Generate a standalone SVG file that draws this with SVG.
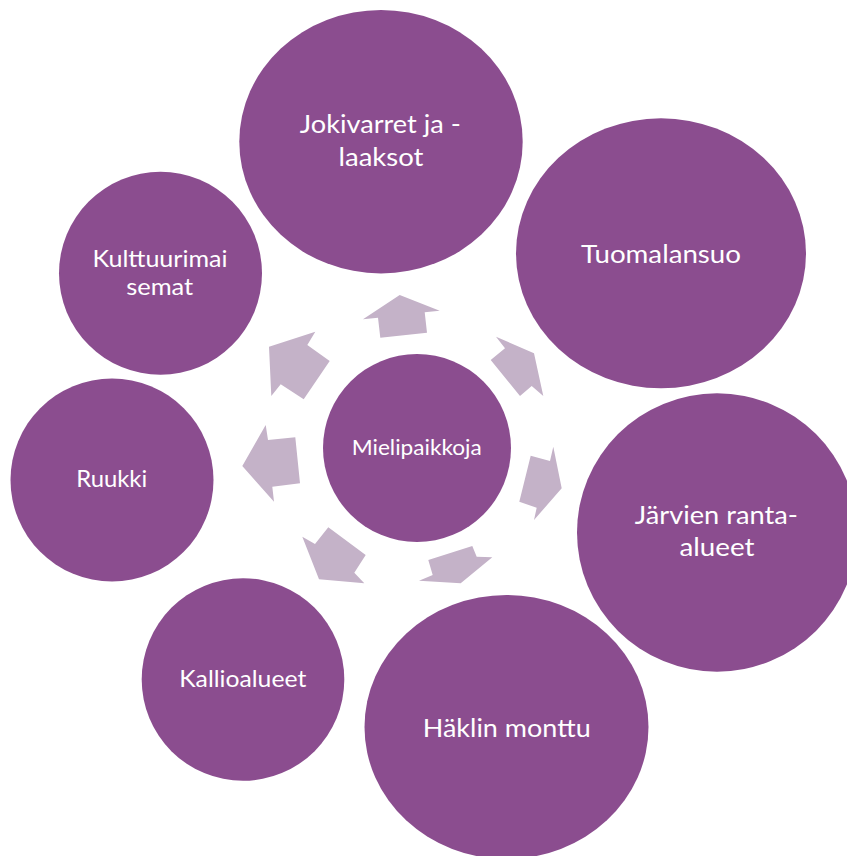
<svg xmlns="http://www.w3.org/2000/svg" width="847" height="856" viewBox="0 0 847 856">
<style>
.node{fill:#8B4D8F}
.arrow{fill:#C4B2C8}
.lbl{fill:#FFFFFF;font-family:Lato,"Open Sans","Liberation Sans",sans-serif;text-anchor:middle}
.big{font-size:25.4px}
.small{font-size:23.2px}
.mid{font-size:20.7px}
</style>
<rect width="847" height="856" fill="#FFFFFF"/>
<g id="connectors">
<polygon class="arrow" points="363,319.3 399.7,295 439.7,310.7 424.7,312.3 427,332.7 380.3,337.7 378,317.7"/>
<polygon class="arrow" points="496,336.7 534,353.3 543.3,396 531.7,386 520,396 490.7,360 505,348.3"/>
<polygon class="arrow" points="553.3,446.7 561.7,488.3 534,520 536.7,507.7 519.3,501.7 530.7,455.7 550,461"/>
<polygon class="arrow" points="419,580.7 432.7,575 428.3,560 472.3,546 476.7,556.7 492.3,557.3 460.7,583.3"/>
<polygon class="arrow" points="302.3,536.7 315,544 328.3,527.3 365.7,555 354.3,572.7 364.3,583.3 319,579.3"/>
<polygon class="arrow" points="242.3,466 265.7,425 268,440 295.3,437.3 300,483.3 272.3,486.7 274,501.7"/>
<polygon class="arrow" points="269,346.7 315.3,331.7 307.3,345 329.7,361 303.7,399.3 280.7,384.3 271.3,396"/>
</g>
<g id="node-center">
<circle class="node" cx="417" cy="448" r="94"/>
<text class="lbl mid" x="416.7" y="455" textLength="130" lengthAdjust="spacingAndGlyphs">Mielipaikkoja</text>
</g>
<g id="node-jokivarret">
<ellipse class="node" cx="381" cy="141.7" rx="141.7" ry="131.7"/>
<text class="lbl big" x="380.3" y="133.3" textLength="161" lengthAdjust="spacingAndGlyphs">Jokivarret ja -</text>
<text class="lbl big" x="381" y="165.7" textLength="85" lengthAdjust="spacingAndGlyphs">laaksot</text>
</g>
<g id="node-tuomalansuo">
<ellipse class="node" cx="661" cy="253.3" rx="145" ry="135"/>
<text class="lbl big" x="661" y="262.7" textLength="160" lengthAdjust="spacingAndGlyphs">Tuomalansuo</text>
</g>
<g id="node-jarvien">
<ellipse class="node" cx="717" cy="532.5" rx="140" ry="139.2"/>
<text class="lbl big" x="716.3" y="524.3" textLength="163" lengthAdjust="spacingAndGlyphs">Järvien ranta-</text>
<text class="lbl big" x="717" y="556" textLength="75" lengthAdjust="spacingAndGlyphs">alueet</text>
</g>
<g id="node-haklin">
<ellipse class="node" cx="506.5" cy="727" rx="142" ry="132"/>
<text class="lbl big" x="506.7" y="736.7" textLength="168" lengthAdjust="spacingAndGlyphs">Häklin monttu</text>
</g>
<g id="node-kallio">
<circle class="node" cx="243" cy="679.5" r="101.3"/>
<text class="lbl small" x="242.8" y="687.3" textLength="127" lengthAdjust="spacingAndGlyphs">Kallioalueet</text>
</g>
<g id="node-ruukki">
<circle class="node" cx="112" cy="480" r="101.5"/>
<text class="lbl small" x="111.7" y="486.7" textLength="71" lengthAdjust="spacingAndGlyphs">Ruukki</text>
</g>
<g id="node-kulttuuri">
<circle class="node" cx="160.5" cy="273.3" r="101.5"/>
<text class="lbl small" x="160" y="266.7" textLength="135" lengthAdjust="spacingAndGlyphs">Kulttuurimai</text>
<text class="lbl small" x="159.7" y="295" textLength="67" lengthAdjust="spacingAndGlyphs">semat</text>
</g>
</svg>
